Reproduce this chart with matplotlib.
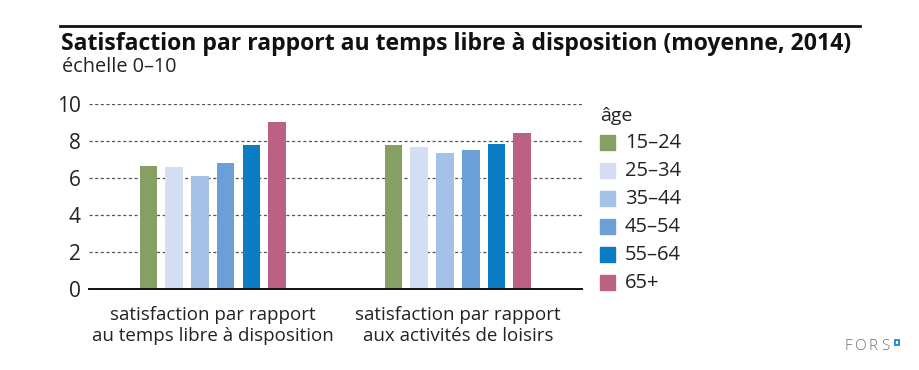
import matplotlib
matplotlib.use("Agg")
import matplotlib.pyplot as plt
from matplotlib.patches import Rectangle
import numpy as np

plt.rcParams['font.family'] = ['Open Sans', 'DejaVu Sans']

categories = ["satisfaction par rapport\nau temps libre à disposition",
              "satisfaction par rapport\naux activités de loisirs"]
age_groups = ["15–24", "25–34", "35–44", "45–54", "55–64", "65+"]
values = {
    "15–24": [6.66, 7.76],
    "25–34": [6.59, 7.67],
    "35–44": [6.12, 7.35],
    "45–54": [6.81, 7.49],
    "55–64": [7.76, 7.83],
    "65+":   [9.03, 8.44],
}
colors = ["#86a063", "#d3def3", "#a6c1e7", "#6b9fd8", "#0c7cc5", "#bb6284"]
yticks = [0, 2, 4, 6, 8, 10]

fig = plt.figure(figsize=(9.2, 3.7), dpi=100)
ax = fig.add_axes([0.0967, 0.218, 0.536, 0.501])

x = np.arange(len(categories))
step = 0.105
width = 0.072
n = len(age_groups)
for i, (grp, col) in enumerate(zip(age_groups, colors)):
    offs = (i - (n - 1) / 2) * step
    ax.bar(x + offs, values[grp], width=width, color=col, zorder=3, label=grp)

ax.set_xlim(-0.505, 1.507)
ax.set_ylim(0, 10)
ax.set_yticks(yticks)
ax.set_yticklabels([str(t) for t in yticks], fontsize=15, color="#222222")
ax.set_xticks(x)
ax.set_xticklabels(categories, fontsize=13.5, color="#222222", linespacing=1.2)
ax.tick_params(axis="y", length=0, pad=6)
ax.tick_params(axis="x", length=0, pad=12)
for t in yticks[1:]:
    ax.axhline(t, color="#555555", lw=0.9, ls=(0, (2.5, 2)), zorder=1)
for s in ["top", "right", "left"]:
    ax.spines[s].set_visible(False)
ax.spines["bottom"].set_color("#111111")
ax.spines["bottom"].set_linewidth(1.4)
ax.spines["bottom"].set_zorder(4)

# rule and title
fig.add_artist(plt.Line2D([60 / 920, 860 / 920], [1 - 25.5 / 370] * 2,
                          color="#111111", lw=2))
fig.text(61 / 920, 1 - 44 / 370, "Satisfaction par rapport au temps libre à disposition (moyenne, 2014)",
         fontsize=16.6, fontweight="bold", color="#111111", va="center", ha="left")
fig.text(62 / 920, 1 - 67 / 370, "échelle 0–10", fontsize=14.3, color="#222222",
         va="center", ha="left")

# legend
fig.text(600 / 920, 1 - 116 / 370, "âge", fontsize=14, color="#222222", va="center")
for i, (grp, col) in enumerate(zip(age_groups, colors)):
    yc = 142.7 + i * 28
    fig.add_artist(Rectangle((600 / 920, 1 - (yc + 7.5) / 370), 15 / 920, 15 / 370,
                             transform=fig.transFigure, color=col))
    fig.text(625 / 920, 1 - yc / 370, grp, fontsize=14.5, color="#222222", va="center")

# logo
for k, ch in enumerate("FORS"):
    fig.text((848 + k * 12.5) / 920, 1 - 347 / 370, ch, fontsize=11, fontweight="light",
             color="#707070", ha="center", va="center")
fig.add_artist(Rectangle((895 / 920, 1 - 344.5 / 370), 4.5 / 920, 4.5 / 370,
                         transform=fig.transFigure, fill=False, ec="#1a8ad4", lw=1.3))

fig.savefig("out.png", dpi=100)
